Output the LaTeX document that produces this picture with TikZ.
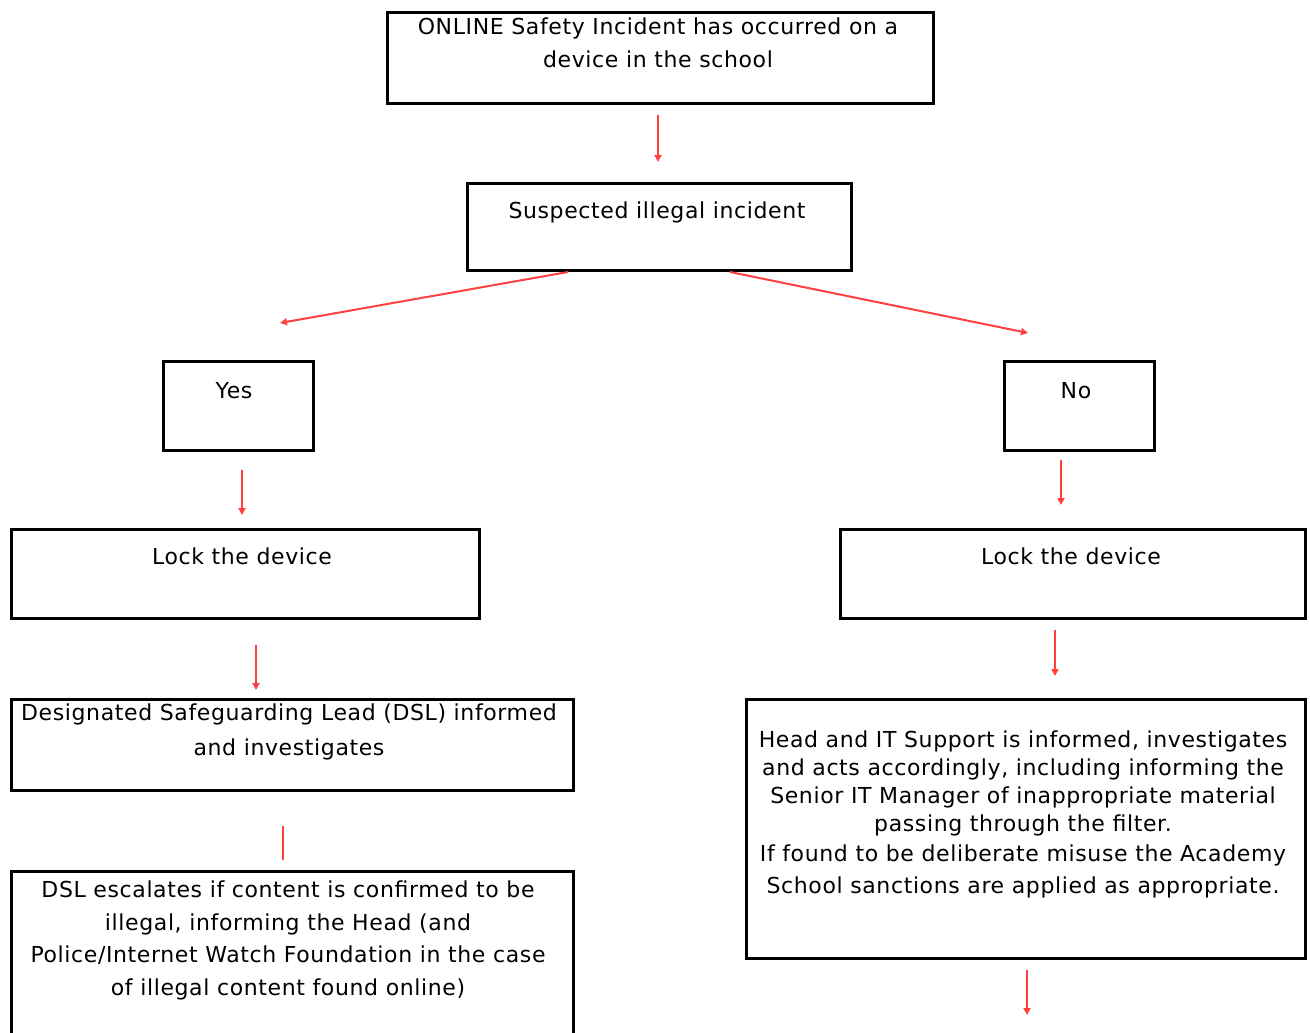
\documentclass[tikz,border=0pt]{standalone}
\usepackage{fontspec}
\setmainfont{DejaVu Sans}[LetterSpace=2.8]
\usetikzlibrary{arrows.meta}
\definecolor{arrred}{RGB}{255,64,64}
\tikzset{
  box/.style={draw=black, line width=3pt, rectangle, inner sep=0pt, outer sep=0pt, anchor=north west},
  txt/.style={anchor=north, inner sep=0pt, align=center, font=\fontsize{22}{33}\selectfont},
  arr/.style={draw=arrred, line width=2pt, -{Triangle[length=7pt,width=7pt]}},
  plainln/.style={draw=arrred, line width=2pt}
}
\begin{document}
\begin{tikzpicture}[x=1pt,y=-1pt]
\useasboundingbox (0,0) rectangle (1310,1033);
\clip (0,0) rectangle (1310,1033);
% boxes
\node[box, minimum width=546pt, minimum height=91pt] (b1) at (387.5,12.5) {};
\node[box, minimum width=384pt, minimum height=87pt] (b2) at (467.5,183.5) {};
\node[box, minimum width=150pt, minimum height=89pt] (yes) at (163.5,361.5) {};
\node[box, minimum width=150pt, minimum height=89pt] (no) at (1004.5,361.5) {};
\node[box, minimum width=468pt, minimum height=89pt] (lockL) at (11.5,529.5) {};
\node[box, minimum width=465pt, minimum height=89pt] (lockR) at (840.5,529.5) {};
\node[box, minimum width=562pt, minimum height=91pt] (dsl) at (11.5,699.5) {};
\node[box, minimum width=559pt, minimum height=259pt] (head) at (746.5,699.5) {};
\node[box, minimum width=562pt, minimum height=180pt] (esc) at (11.5,871.5) {};
% texts
\node[txt] (t1) at (658,18) {ONLINE Safety Incident has occurred on a\\device in the school};
\node[txt] (t2) at (657,202) {Suspected illegal incident};
\node[txt] (tyes) at (234,382) {Yes};
\node[txt] (tno) at (1076,382) {No};
\node[txt] (tlockL) at (242,548) {Lock the device};
\node[txt] (tlockR) at (1071,548) {Lock the device};
\node[txt, font=\fontsize{22}{35}\selectfont] (tdsl) at (289,704) {Designated Safeguarding Lead (DSL) informed\\and investigates};
\node[txt, font=\fontsize{22}{28}\selectfont] (thead) at (1023,731) {Head and IT Support is informed, investigates\\and acts accordingly, including informing the\\Senior IT Manager of inappropriate material\\passing through the filter.\\[2pt]If found to be deliberate misuse the Academy\\[4pt]School sanctions are applied as appropriate.};
\node[txt, font=\fontsize{22}{32.5}\selectfont] (tesc) at (288,881) {DSL escalates if content is confirmed to be\\illegal, informing the Head (and\\Police/Internet Watch Foundation in the case\\of illegal content found online)};
% connector end points
\coordinate (a1s) at (658,115); \coordinate (a1e) at (658,162);
\coordinate (a2s) at (568,272); \coordinate (a2e) at (280,323);
\coordinate (a3s) at (730,272); \coordinate (a3e) at (1028,333);
\coordinate (a4s) at (242,470); \coordinate (a4e) at (242,515);
\coordinate (a5s) at (1061,460); \coordinate (a5e) at (1061,505);
\coordinate (a6s) at (256,645); \coordinate (a6e) at (256,690);
\coordinate (a7s) at (1055,630); \coordinate (a7e) at (1055,676);
\coordinate (a8s) at (283,826); \coordinate (a8e) at (283,860);
\coordinate (a9s) at (1027,970); \coordinate (a9e) at (1027,1015);
\draw[arr] (a1s) -- (a1e);
\draw[arr] (a2s) -- (a2e);
\draw[arr] (a3s) -- (a3e);
\draw[arr] (a4s) -- (a4e);
\draw[arr] (a5s) -- (a5e);
\draw[arr] (a6s) -- (a6e);
\draw[arr] (a7s) -- (a7e);
\draw[plainln] (a8s) -- (a8e);
\draw[arr] (a9s) -- (a9e);
\end{tikzpicture}
\end{document}
